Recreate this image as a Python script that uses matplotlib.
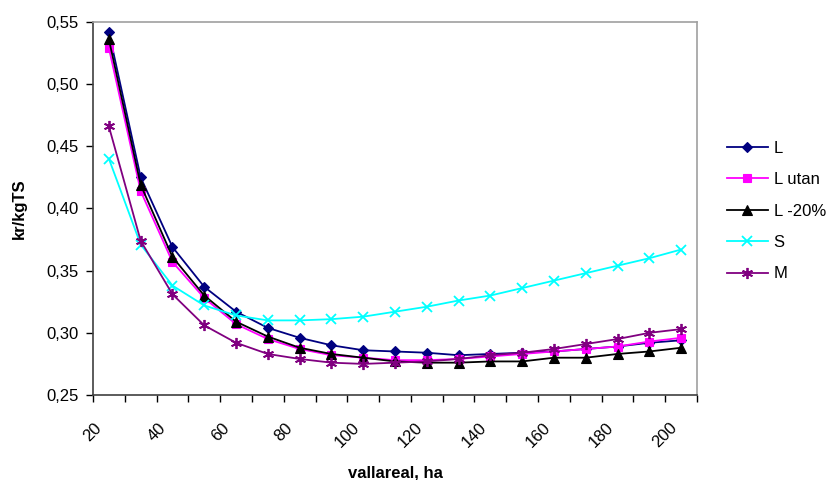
import matplotlib.pyplot as plt
from matplotlib.ticker import FuncFormatter

x = [25, 35, 45, 55, 65, 75, 85, 95, 105, 115, 125, 135, 145, 155, 165, 175, 185, 195, 205]

l_base = [0.542, 0.425, 0.369, 0.337, 0.317, 0.304, 0.296, 0.290, 0.286, 0.285, 0.284, 0.282,
          0.283, 0.284, 0.285, 0.287, 0.289, 0.292, 0.294]
l_utan = [0.529, 0.414, 0.357, 0.328, 0.307, 0.295, 0.287, 0.282, 0.280, 0.278, 0.278, 0.279,
          0.281, 0.283, 0.285, 0.287, 0.289, 0.293, 0.296]
l_20 = [0.536, 0.419, 0.361, 0.330, 0.309, 0.297, 0.288, 0.283, 0.280, 0.277, 0.276, 0.276,
        0.277, 0.277, 0.280, 0.280, 0.283, 0.285, 0.288]
s_vals = [0.440, 0.371, 0.338, 0.322, 0.314, 0.310, 0.310, 0.311, 0.313, 0.317, 0.321, 0.326,
          0.330, 0.336, 0.342, 0.348, 0.354, 0.360, 0.367]
m_vals = [0.466, 0.374, 0.331, 0.306, 0.292, 0.283, 0.279, 0.276, 0.275, 0.276, 0.277, 0.279,
          0.282, 0.284, 0.287, 0.291, 0.295, 0.300, 0.303]

series = [
    ("L", l_base, "#000080", "D", 5.5),
    ("L utan", l_utan, "#FF00FF", "s", 5.5),
    ("L -20%", l_20, "#000000", "^", 6.5),
    ("S", s_vals, "#00FFFF", "x", 7),
    ("M", m_vals, "#800080", (6, 2, 0), 8),
]

plt.rcParams["font.family"] = ["Liberation Sans", "DejaVu Sans"]

fig = plt.figure(figsize=(8.33, 4.8), dpi=100)
ax = fig.add_axes([93 / 833, 1 - 395 / 480, (697 - 93) / 833, (395 - 22) / 480])

for name, vals, color, marker, ms in series:
    ax.plot(x, vals, color=color, marker=marker, markersize=ms, linewidth=1.3,
            markeredgewidth=1.3 if marker in ("x", (6, 2, 0)) else 0.8, label=name)

ax.set_xlim(20, 210)
ax.set_ylim(0.25, 0.55)
ax.set_xticks(range(20, 211, 10))
ax.set_xticklabels([str(v) if v % 20 == 0 and v <= 200 else "" for v in range(20, 211, 10)],
                   rotation=45, ha="center", va="top")
ax.set_yticks([0.25, 0.30, 0.35, 0.40, 0.45, 0.50, 0.55])
ax.yaxis.set_major_formatter(FuncFormatter(lambda v, p: f"{v:.2f}".replace(".", ",")))
ax.tick_params(axis="both", direction="out", length=5, width=1, labelsize=12, colors="#000000")
ax.tick_params(axis="x", pad=13)
ax.tick_params(axis="y", pad=5)

for side in ("left", "bottom"):
    ax.spines[side].set_color("#404040")
    ax.spines[side].set_linewidth(1.2)
for side in ("top", "right"):
    ax.spines[side].set_color("#A0A0A0")
    ax.spines[side].set_linewidth(1.2)

ax.set_xlabel("vallareal, ha", fontsize=12, fontweight="bold", va="center")
ax.xaxis.set_label_coords(0.5, (395 - 473) / 373)
ax.set_ylabel("kr/kgTS", fontsize=12, fontweight="bold", va="center")
ax.yaxis.set_label_coords((19 - 93) / 604, 0.5)

fig.legend(loc="upper left", bbox_to_anchor=(727 / 833, 1 - 141 / 480), frameon=False,
           fontsize=12, handlelength=2.45, labelspacing=0.98, handletextpad=0.35,
           borderaxespad=0, borderpad=0)

fig.savefig("out.png", dpi=100)
